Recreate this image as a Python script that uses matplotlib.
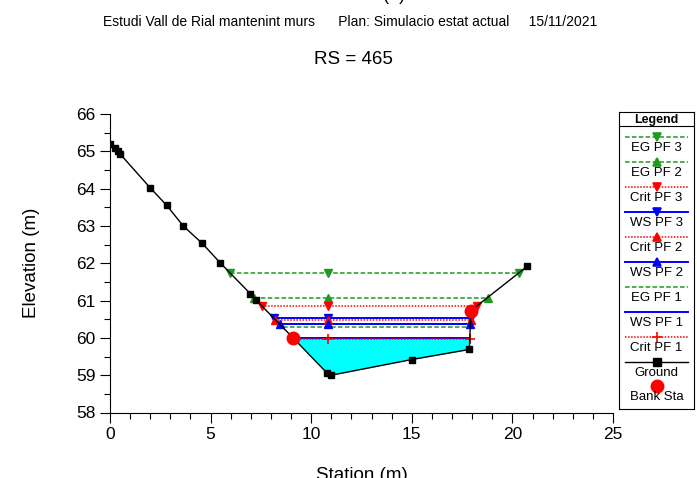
import numpy as np
import matplotlib
matplotlib.use("Agg")
import matplotlib.pyplot as plt
from matplotlib.ticker import MultipleLocator

plt.rcParams['font.family'] = ['Liberation Sans', 'DejaVu Sans']

# Cross-section ground profile (station, elevation)
ground_x = [0.0, 0.25, 0.4, 0.5, 2.0, 2.82, 3.64, 4.59, 5.48, 6.98, 7.25,
            9.08, 10.8, 11.0, 15.0, 17.86, 17.94, 20.74]
ground_y = [65.2, 65.08, 65.02, 64.93, 64.02, 63.55, 63.0, 62.53, 62.01, 61.18, 61.02,
            60.01, 59.05, 59.0, 59.42, 59.69, 60.73, 61.92]

# Bank stations
bank_x = [9.08, 17.94]
bank_y = [60.01, 60.73]

# Computed water surfaces for each profile
profile_names = ["EG PF 3", "EG PF 2", "Crit PF 3", "WS PF 3", "Crit PF 2",
                 "WS PF 2", "EG PF 1", "WS PF 1", "Crit PF 1"]
profile_levels = [61.75, 61.08, 60.86, 60.52, 60.49, 60.36, 60.28, 59.99, 59.98]
marker_station = 10.85

GREEN = "#1f9a1f"
RED = "#ff0000"
BLUE = "#0000ff"
profile_styles = {
    "EG PF 3":   dict(color=GREEN, ls=(0, (3, 1.5)), marker="v", lw=1.1),
    "EG PF 2":   dict(color=GREEN, ls=(0, (3, 1.5)), marker="^", lw=1.1),
    "Crit PF 3": dict(color=RED, ls=(0, (1, 1)), marker="v", lw=1.1),
    "WS PF 3":   dict(color=BLUE, ls="-", marker="v", lw=1.4),
    "Crit PF 2": dict(color=RED, ls=(0, (1, 1)), marker="^", lw=1.1),
    "WS PF 2":   dict(color=BLUE, ls="-", marker="^", lw=1.4),
    "EG PF 1":   dict(color=GREEN, ls=(0, (3, 1.5)), marker=None, lw=1.1),
    "WS PF 1":   dict(color=BLUE, ls="-", marker=None, lw=1.4),
    "Crit PF 1": dict(color=RED, ls=(0, (1, 1)), marker="+", lw=1.1),
}

gx = np.array(ground_x)
gy = np.array(ground_y)
imin = int(np.argmin(gy))


def wet_limits(level):
    """Left and right stations where a water level meets the ground."""
    left = np.interp(level, gy[:imin + 1][::-1], gx[:imin + 1][::-1])
    right = np.interp(level, gy[imin:], gx[imin:])
    return left, right


W, H = 697, 478
fig = plt.figure(figsize=(W / 100, H / 100), dpi=100)
ax = fig.add_axes([110 / W, (H - 412.5) / H, (613 - 110) / W, (412.5 - 114) / H])

# Flow area of the lowest water surface
ws1 = profile_levels[profile_names.index("WS PF 1")]
ax.fill_between(gx, gy, ws1, where=gy <= ws1, interpolate=True,
                color="#00ffff", lw=0, zorder=1)

for name, level in zip(profile_names, profile_levels):
    st = profile_styles[name]
    l, r = wet_limits(level)
    ax.plot([l, r], [level, level], color=st["color"], ls=st["ls"], lw=st["lw"], zorder=2)
    if st["marker"]:
        mk = dict(marker=st["marker"], color=st["color"], ls="none", zorder=3)
        if st["marker"] == "+":
            mk.update(markersize=7, mew=1.2)
        else:
            mk.update(markersize=6)
        ax.plot([l, marker_station, r], [level] * 3, **mk)

ax.plot(gx, gy, color="black", lw=1.0, marker="s", markersize=5, zorder=4)
ax.plot(bank_x, bank_y, "o", color=RED, markersize=9, zorder=5)

ax.set_xlim(0, 25)
ax.set_ylim(58, 66)
ax.xaxis.set_major_locator(MultipleLocator(5))
ax.xaxis.set_minor_locator(MultipleLocator(1))
ax.yaxis.set_major_locator(MultipleLocator(1))
ax.yaxis.set_minor_locator(MultipleLocator(0.5))
ax.tick_params(which="major", length=7, width=0.8, labelsize=12.5, direction="out")
ax.tick_params(which="minor", length=4, width=0.8, direction="out")
ax.spines["top"].set_visible(False)
ax.spines["right"].set_visible(False)
ax.set_xlabel("Station (m)", fontsize=13.5, labelpad=18)
ax.set_ylabel("Elevation (m)", fontsize=13.5, labelpad=26)

fig.text(394 / W, 1 - 0.5 / H, "(  )", ha="center", va="baseline", fontsize=13)
fig.text(350 / W, 1 - 22 / H, "Estudi Vall de Rial mantenint murs      Plan: Simulacio estat actual     15/11/2021",
         ha="center", va="center", fontsize=10)
fig.text(353 / W, 1 - 60 / H, "RS = 465", ha="center", va="center", fontsize=13.5)

# Legend panel
lg_top, lg_bot = 112, 409
lax = fig.add_axes([619 / W, (H - lg_bot) / H, 75 / W, (lg_bot - lg_top) / H])
lax.set_xlim(0, 1)
lax.set_ylim(lg_bot - lg_top, 0)
lax.set_xticks([])
lax.set_yticks([])
for s in lax.spines.values():
    s.set_linewidth(0.8)
lax.axhline(14, color="black", lw=0.8)
lax.text(0.5, 7.5, "Legend", ha="center", va="center", fontsize=9, fontweight="bold")

for i, name in enumerate(profile_names):
    st = profile_styles[name]
    y = 25 + 25 * i
    lax.plot([0.08, 0.92], [y, y], color=st["color"], ls=st["ls"], lw=st["lw"])
    if st["marker"]:
        ms = 7 if st["marker"] == "+" else 6
        lax.plot([0.5], [y], marker=st["marker"], color=st["color"], markersize=ms, mew=1.2, ls="none")
    lax.text(0.5, y + 11, name, ha="center", va="center", fontsize=9.5)
y = 25 + 25 * len(profile_names)
lax.plot([0.08, 0.92], [y, y], color="black", lw=1.0)
lax.plot([0.5], [y], "s", color="black", markersize=6)
lax.text(0.5, y + 11, "Ground", ha="center", va="center", fontsize=9.5)
y += 23.5
lax.plot([0.5], [y], "o", color=RED, markersize=9)
lax.text(0.5, y + 11, "Bank Sta", ha="center", va="center", fontsize=9.5)

fig.savefig("out.png", dpi=100)
